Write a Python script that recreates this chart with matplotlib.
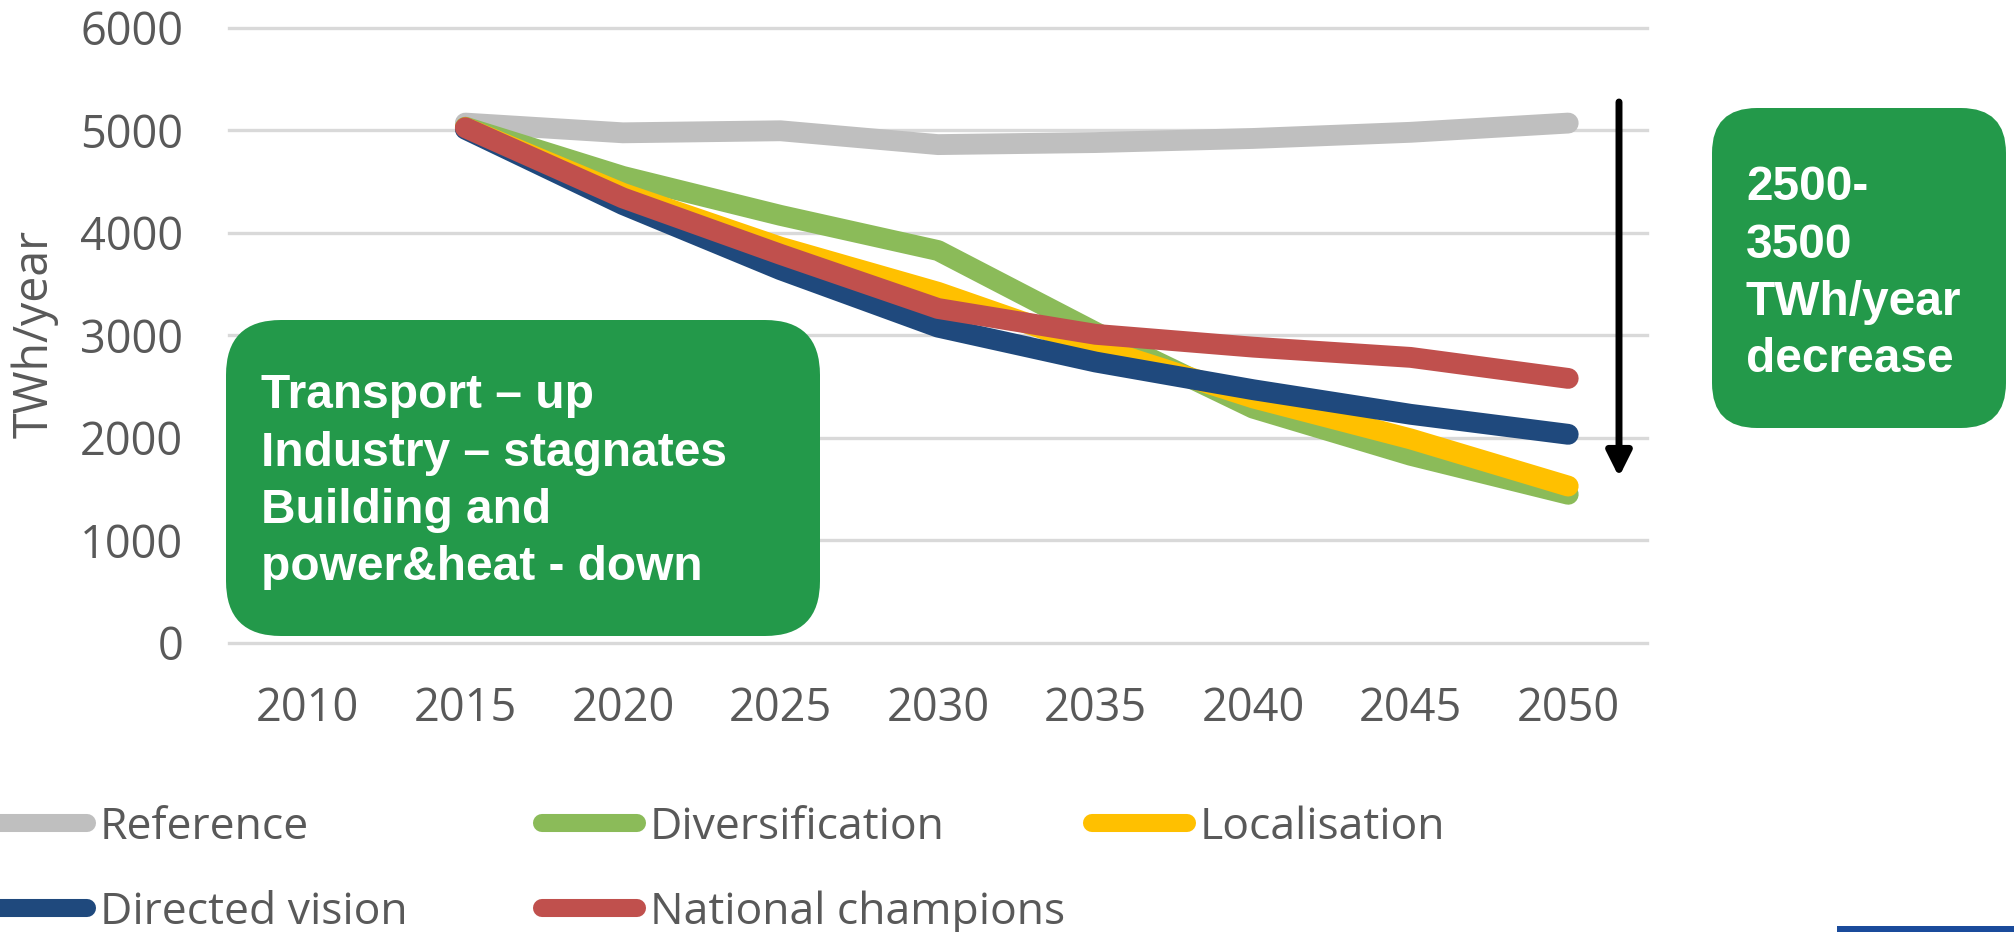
import numpy as np
import matplotlib
matplotlib.use('Agg')
import matplotlib.pyplot as plt
from matplotlib.patches import FancyBboxPatch, FancyArrowPatch, Rectangle
from matplotlib.lines import Line2D

# ---- data ----
years = ['2010', '2015', '2020', '2025', '2030', '2035', '2040', '2045', '2050']
reference = [np.nan, 5070, 4975, 4995, 4860, 4880, 4920, 4980, 5070]
diversification = [np.nan, 5030, 4550, 4170, 3827, 3030, 2290, 1830, 1450]
localisation = [np.nan, 5025, 4385, 3860, 3420, 2885, 2390, 1990, 1530]
directed_vision = [np.nan, 5010, 4275, 3640, 3080, 2740, 2470, 2230, 2035]
national_champions = [np.nan, 5025, 4340, 3790, 3262, 3010, 2885, 2785, 2580]

series_names = ['Reference', 'Diversification', 'Localisation',
                'Directed vision', 'National champions']
series_values = [reference, diversification, localisation,
                 directed_vision, national_champions]
colors = ['#BFBFBF', '#8BBB59', '#FFC000', '#1F497D', '#C0504D']

box1_lines = ['Transport – up', 'Industry – stagnates', 'Building and',
              'power&heat - down']
box2_lines = ['2500-', '3500', 'TWh/year', 'decrease']

plt.rcParams['font.family'] = ['Open Sans', 'DejaVu Sans']

W, H = 2015, 932
fig = plt.figure(figsize=(W / 100, H / 100), dpi=100)
ax = fig.add_axes([229 / W, 1 - 643 / H, (1647 - 229) / W, (643 - 27.7) / H])

x = np.arange(len(years))
for vals, c, name in zip(series_values, colors, series_names):
    ax.plot(x, vals, color=c, lw=15, solid_capstyle='round',
            solid_joinstyle='round', label=name, zorder=3)

ax.set_xlim(-0.5, len(years) - 0.5)
ax.set_ylim(0, 6000)
ax.set_yticks(range(0, 6001, 1000))
ax.set_xticks(x)
ax.set_xticklabels(years)
ax.grid(axis='y', color='#D9D9D9', lw=2.4)
ax.grid(axis='x', visible=False)
ax.set_axisbelow(True)
for s in ax.spines.values():
    s.set_visible(False)
ax.tick_params(length=0, labelsize=32.5, labelcolor='#595959')
ax.tick_params(axis='y', pad=33)
ax.tick_params(axis='x', pad=31)
for gl in ax.get_ygridlines():
    gl.set_clip_on(False)

# ---- overlay in pixel coordinates ----
ov = fig.add_axes([0, 0, 1, 1], zorder=5)
ov.set_xlim(0, W)
ov.set_ylim(H, 0)
ov.axis('off')

ov.text(35, 334, 'TWh/year', rotation=90, ha='center', va='center',
        fontsize=33.5, color='#595959')

green = '#23994A'
ov.add_patch(FancyBboxPatch((226, 320), 594, 316,
                            boxstyle='round,pad=0,rounding_size=55',
                            fc=green, ec='none'))
for i, t in enumerate(box1_lines):
    ov.text(261, 408 + i * 57.5, t, ha='left', va='baseline', fontsize=34.5,
            fontweight='bold', color='white', family='Liberation Sans')

ov.add_patch(FancyBboxPatch((1712, 108), 294, 320,
                            boxstyle='round,pad=0,rounding_size=45',
                            fc=green, ec='none'))
for i, t in enumerate(box2_lines):
    ov.text(1746, 200 + i * 57.5, t, ha='left', va='baseline', fontsize=34.5,
            fontweight='bold', color='white', family='Liberation Sans')

arrow = FancyArrowPatch((1619, 102), (1619, 477),
                        arrowstyle='-|>,head_length=15,head_width=7.5',
                        mutation_scale=1, lw=5, color='black',
                        shrinkA=0, shrinkB=0)
ov.add_patch(arrow)

# ---- legend (Excel-style fixed grid) ----
row_y = [823, 908]
for k, (name, c) in enumerate(zip(series_names, colors)):
    r, col = divmod(k, 3)
    x0 = 550 * col
    ov.add_line(Line2D([x0 - 8, x0 + 87], [row_y[r], row_y[r]], color=c,
                       lw=13, solid_capstyle='round'))
    ov.text(x0 + 100, row_y[r] + 16, name, ha='left', va='baseline',
            fontsize=32, color='#595959')

ov.add_patch(Rectangle((1837, 925.5), 178, 7, fc='#1A4B9B', ec='none'))

fig.savefig('out.png', dpi=100)
